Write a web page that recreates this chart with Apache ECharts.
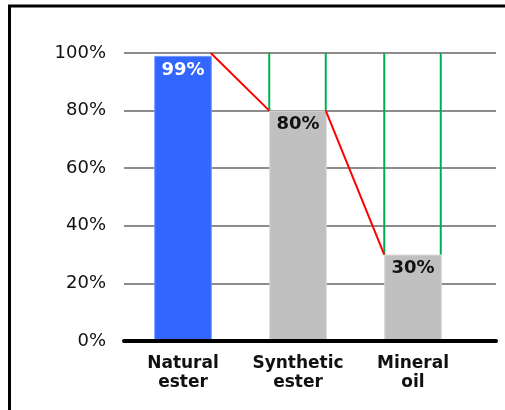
<!DOCTYPE html>
<html>
<head>
<meta charset="utf-8">
<script src="https://cdn.jsdelivr.net/npm/echarts@6/dist/echarts.min.js"></script>
<style>
  html, body { margin: 0; padding: 0; background: #fff; }
  #chart { width: 505px; height: 410px; }
</style>
</head>
<body>
<div id="chart"></div>
<script>
// Biodegradability of transformer fluids
const categories = ['Natural\nester', 'Synthetic\nester', 'Mineral\noil'];
const shares = [99, 80, 30];
const barColors = ['#3366FF', '#C0C0C0', '#C0C0C0'];
const barBorders = ['#6F93FF', '#D6D6D6', '#D6D6D6'];
const labelColors = ['#FFFFFF', '#111111', '#111111'];
const ceiling = 100;           // top of the green gap markers
const dropStarts = [100, 80];  // where each red connector leaves the previous bar
const yMin = 0, yMax = 100, yStep = 20;

const FONT = 'DejaVu Sans';
const chart = echarts.init(document.getElementById('chart'), null, { renderer: 'canvas' });

// green gap markers and red connectors, placed at bar edges
function renderConnectors(params, api) {
  const i = api.value(0);
  const band = api.size([1, 0])[0];
  const half = band * 0.25;
  const cx = api.coord([i, shares[i]])[0];
  const px = api.coord([i - 1, 0])[0];
  const yTop = api.coord([i, ceiling])[1];
  const yBar = api.coord([i, shares[i]])[1];
  const yFrom = api.coord([i, dropStarts[i - 1]])[1];
  const green = { stroke: '#00B050', lineWidth: 2 };
  const red = { stroke: '#FF0000', lineWidth: 2 };
  return {
    type: 'group',
    children: [
      { type: 'line', shape: { x1: cx - half, y1: yTop, x2: cx - half, y2: yBar }, style: green },
      { type: 'line', shape: { x1: cx + half - 1, y1: yTop, x2: cx + half - 1, y2: yBar }, style: green },
      { type: 'line', shape: { x1: px + half - 1, y1: yFrom, x2: cx - half, y2: yBar }, style: red }
    ]
  };
}

const option = {
  animation: false,
  backgroundColor: '#fff',
  graphic: [{
    // slide frame: left and top edges
    type: 'polyline',
    shape: { points: [[9.5, 420], [9.5, 6], [520, 6]] },
    style: { fill: 'none', stroke: '#000', lineWidth: 3 },
    z: 10
  }],
  grid: [
    { left: 124, right: 9, top: 53, bottom: 69 },
    { left: 125.5, width: 345, top: 53, bottom: 69 }
  ],
  xAxis: [
    {
      gridIndex: 0, type: 'category', data: [''], z: 5,
      axisLine: { show: true, lineStyle: { color: '#000', width: 4 } },
      axisTick: { show: false }, axisLabel: { show: false }, splitLine: { show: false }
    },
    {
      gridIndex: 1, type: 'category', data: categories,
      axisLine: { show: false }, axisTick: { show: false },
      axisLabel: {
        interval: 0, margin: 13, fontFamily: FONT, fontSize: 17, fontWeight: 'bold',
        color: '#111', lineHeight: 19
      }
    }
  ],
  yAxis: [
    {
      gridIndex: 0, type: 'value', min: yMin, max: yMax, interval: yStep,
      axisLine: { show: false }, axisTick: { show: false },
      axisLabel: { margin: 18, fontFamily: FONT, fontSize: 18, color: '#111', formatter: '{value}%' },
      splitLine: { lineStyle: { color: '#666', width: 1.5 } }
    },
    {
      gridIndex: 1, type: 'value', min: yMin, max: yMax, show: false
    }
  ],
  series: [
    {
      type: 'bar', xAxisIndex: 1, yAxisIndex: 1, barWidth: '50%', z: 2,
      data: shares.map((v, i) => ({
        value: v,
        itemStyle: { color: barColors[i], borderColor: barBorders[i], borderWidth: 1 },
        label: { color: labelColors[i] }
      })),
      label: {
        show: true, position: 'insideTop', distance: 5,
        fontFamily: FONT, fontSize: 18, fontWeight: 'bold', formatter: '{c}%'
      }
    },
    {
      type: 'custom', xAxisIndex: 1, yAxisIndex: 1, z: 3,
      renderItem: renderConnectors,
      data: [[1], [2]]
    }
  ]
};
chart.setOption(option);
</script>
</body>
</html>
